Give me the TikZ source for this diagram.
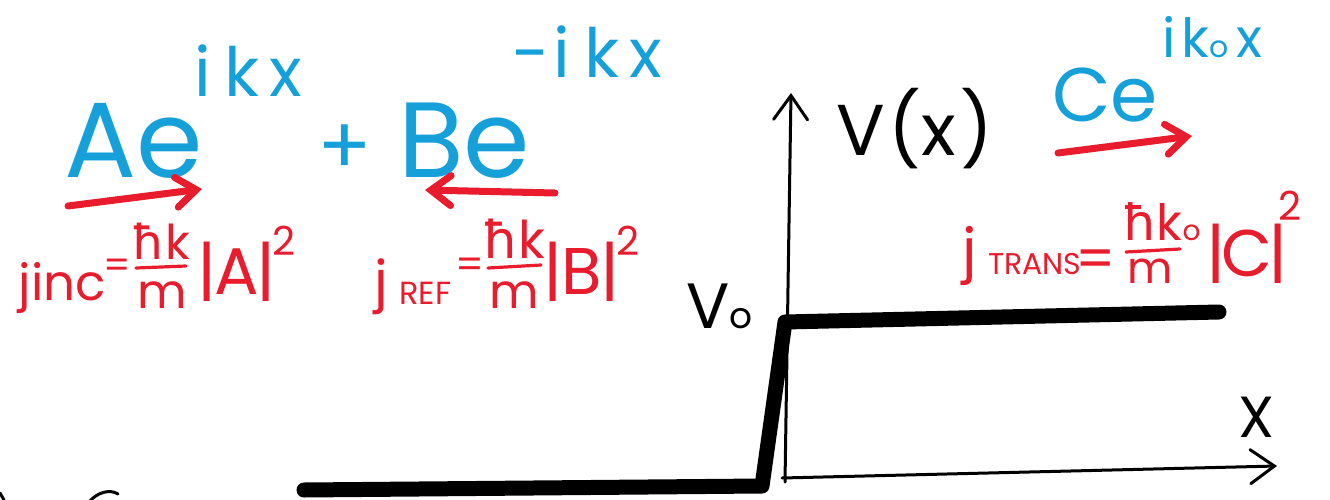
\documentclass[tikz,border=0pt]{standalone}
\usepackage{fontspec}
\setmainfont{Poppins}
\newfontfamily\hfont{DejaVu Sans}
\usetikzlibrary{arrows.meta}
\definecolor{blueink}{RGB}{22,160,218}
\definecolor{redink}{RGB}{232,28,44}
\newcommand{\fsz}[1]{\fontsize{#1}{#1}\selectfont}
\newcommand{\hb}{{\hfont ħ}}
\tikzset{
  bluetxt/.style={text=blueink, inner sep=0pt, anchor=base west},
  redtxt/.style={text=redink, inner sep=0pt, anchor=base west},
  redmid/.style={text=redink, inner sep=0pt, anchor=base},
  blacktxt/.style={text=black, inner sep=0pt, anchor=base west},
  redarrow/.style={draw=redink, line width=7pt, line cap=round,
    -{Straight Barb[length=20pt,width=30pt,line cap=round]}},
  axisline/.style={draw=black, line width=3pt, line cap=round,
    -{Straight Barb[length=24pt,width=34pt,line cap=round]}},
  potential/.style={draw=black, line width=15pt, line cap=round, line join=round},
  fracbar/.style={draw=redink, line width=3.2pt, line cap=round},
  scrap/.style={draw=black, line width=3pt, line cap=round},
}
\begin{document}
\begin{tikzpicture}[x=1pt,y=-1pt]
\useasboundingbox (0,0) rectangle (1330,500);

% ---- blue wave terms ----
\node[bluetxt, font=\fsz{107}] (Ae) at (64,177) {Ae};
\node[bluetxt, font=\fsz{68}] (ikx) at (194,97) {i\hspace{14pt}k\hspace{10pt}x};
\node[text=blueink, inner sep=0pt, font=\fsz{80}] (plus) at (345,150) {+};
\node[bluetxt, font=\fsz{107}] (Be) at (398,177) {Be};
\node[bluetxt, font=\fsz{68}] (mikx) at (512,78) {-\hspace{4pt}i\hspace{14pt}k\hspace{10pt}x};
\node[bluetxt, font=\fsz{76}] (Ce) at (1052,122) {Ce};
\node[bluetxt, font=\fsz{54}] (ikox) at (1162,58) {i\hspace{6pt}k{\fsz{30}o}\hspace{8pt}x};

% ---- red arrows ----
\coordinate (aS) at (68,206);  \coordinate (aE) at (202,189);
\coordinate (bS) at (555,193); \coordinate (bE) at (425,190);
\coordinate (cS) at (1058,153);\coordinate (cE) at (1192,136);
\draw[redarrow] (aS) -- (aE);
\draw[redarrow] (bS) -- (bE);
\draw[redarrow] (cS) -- (cE);

% ---- j_inc ----
\node[redtxt, font=\fsz{50}] (jinc) at (18,300) {j\hspace{1pt}inc};
\node[redmid, font=\fsz{38}] (eq1) at (117,278) {=};
\node[redmid, font=\fsz{48}] (num1) at (161,259) {\hb k};
\coordinate (f1a) at (136,268); \coordinate (f1b) at (186,266);
\draw[fracbar] (f1a) -- (f1b);
\node[redmid, font=\fsz{48}] (den1) at (162,308) {m};
\node[redtxt, font=\fsz{66}] (absA) at (197,294) {|\hspace{-2pt}A\hspace{-2pt}|};
\node[redtxt, font=\fsz{40}] (sq1) at (272,255) {2};

% ---- j_REF ----
\node[redtxt, font=\fsz{55}] (jref) at (374,300) {j};
\node[redtxt, font=\fsz{32}] (refsub) at (399,304) {REF};
\node[redmid, font=\fsz{40}] (eq2) at (470,278) {=};
\node[redmid, font=\fsz{52}] (num2) at (514,258) {\hb k};
\coordinate (f2a) at (488,268); \coordinate (f2b) at (541,265);
\draw[fracbar] (f2a) -- (f2b);
\node[redmid, font=\fsz{48}] (den2) at (514,308) {m};
\node[redtxt, font=\fsz{66}] (absB) at (543,294) {|\hspace{-1pt}B\hspace{-1pt}|};
\node[redtxt, font=\fsz{40}] (sq2) at (616,255) {2};

% ---- j_TRANS ----
\node[redtxt, font=\fsz{58}] (jtr) at (962,270) {j};
\node[redtxt, font=\fsz{30}] (trsub) at (988,274) {TRANS};
\node[redmid, font=\fsz{56}] (eq3) at (1096,278) {=};
\node[redtxt, font=\fsz{50}] (num3) at (1122,240) {\hb k{\fsz{28}o}};
\coordinate (f3a) at (1126,252); \coordinate (f3b) at (1180,249);
\draw[fracbar] (f3a) -- (f3b);
\node[redmid, font=\fsz{44}] (den3) at (1150,283) {m};
\node[redtxt, font=\fsz{66}] (absC) at (1206,276) {|\hspace{-4pt}C\hspace{-4pt}|};
\node[redtxt, font=\fsz{40}] (sq3) at (1278,220) {2};

% ---- axes ----
\coordinate (vbot) at (785,482); \coordinate (vtop) at (791,93);
\draw[axisline] (vbot) -- (vtop);
\coordinate (xbeg) at (782,478); \coordinate (xend) at (1277,466);
\draw[axisline] (xbeg) -- (xend);
\node[blacktxt, font=\fsz{72}] (Vx) at (836,156) {V\hspace{4pt}(x\hspace{4pt})};
\node[blacktxt, font=\fsz{58}] (xlab) at (1238,437) {X};
\node[blacktxt, font=\fsz{64}] (V0) at (686,328) {V{\fsz{36}o}};

% ---- potential step ----
\coordinate (p1) at (304,490); \coordinate (p2) at (762,486);
\coordinate (p3) at (785,322); \coordinate (p4) at (1219,312);
\draw[potential] (p1) -- (p2) -- (p3) -- (p4);

% ---- cut-off scraps at the bottom edge ----
\draw[scrap] (0,493) -- (4,500);
\draw[scrap] (90,501) .. controls (98,492) and (110,489) .. (118,494);
\end{tikzpicture}
\end{document}
